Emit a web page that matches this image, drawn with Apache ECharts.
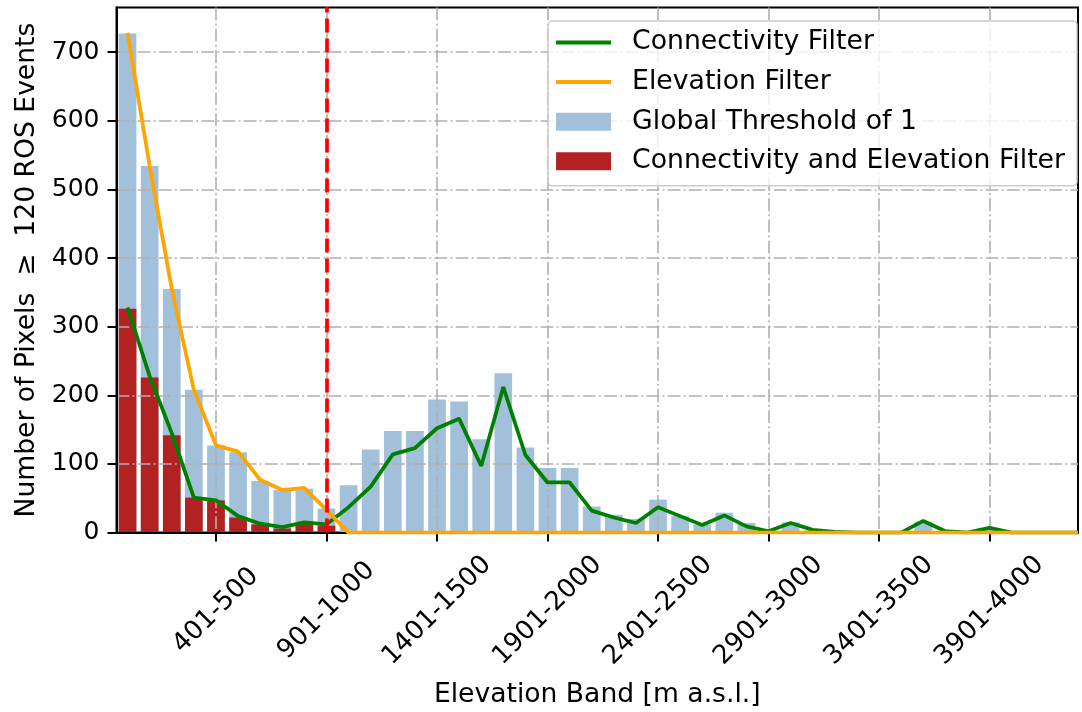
<!DOCTYPE html>
<html>
<head>
<meta charset="utf-8">
<script src="https://cdn.jsdelivr.net/npm/echarts@6/dist/echarts.min.js"></script>
<style>
html, body { margin: 0; padding: 0; background: #fff; }
#chart { width: 1082px; height: 712px; }
</style>
</head>
<body>
<div id="chart"></div>
<script>
// elevation bands (x axis)
const categories = ['1-100', '101-200', '201-300', '301-400', '401-500', '501-600', '601-700', '701-800', '801-900', '901-1000',
  '1001-1100', '1101-1200', '1201-1300', '1301-1400', '1401-1500', '1501-1600', '1601-1700', '1701-1800', '1801-1900', '1901-2000',
  '2001-2100', '2101-2200', '2201-2300', '2301-2400', '2401-2500', '2501-2600', '2601-2700', '2701-2800', '2801-2900', '2901-3000',
  '3001-3100', '3101-3200', '3201-3300', '3301-3400', '3401-3500', '3501-3600', '3601-3700', '3701-3800', '3801-3900', '3901-4000',
  '4001-4100', '4101-4200', '4201-4300', '4301-4400'];
const tickLabels = ['401-500', '901-1000', '1401-1500', '1901-2000', '2401-2500', '2901-3000', '3401-3500', '3901-4000'];
const yTicks = [0, 100, 200, 300, 400, 500, 600, 700];
const thresholdBand = '901-1000';

// Global Threshold of 1 (bars)
const globalThreshold = [727, 534, 355, 208, 127, 117, 75, 62, 64, 35,
  69, 121, 148, 148, 194, 191, 136, 232, 124, 94,
  94, 38, 26, 20, 48, 24, 12, 29, 14, 3,
  15, 3, 1, 0, 0, 0, 16, 2, 0, 6,
  0, 0, 0, 0];
// Connectivity and Elevation Filter (bars)
const connElev = [326, 226, 142, 51, 47, 22, 12, 6, 14, 10,
  0, 0, 0, 0, 0, 0, 0, 0, 0, 0,
  0, 0, 0, 0, 0, 0, 0, 0, 0, 0,
  0, 0, 0, 0, 0, 0, 0, 0, 0, 0,
  0, 0, 0, 0];
// Connectivity Filter (line)
const connectivity = [328, 228, 145, 51, 47, 24, 13, 8, 15, 12,
  37, 67, 114, 123, 152, 166, 97, 212, 113, 73,
  73, 32, 22, 14, 37, 24, 11, 25, 9, 2,
  14, 4, 1, 0, 0, 0, 17, 2, 0, 7,
  0, 0, 0, 0];
// Elevation Filter (line)
const elevation = [728, 534, 355, 208, 127, 118, 77, 62, 65, 33,
  0, 0, 0, 0, 0, 0, 0, 0, 0, 0,
  0, 0, 0, 0, 0, 0, 0, 0, 0, 0,
  0, 0, 0, 0, 0, 0, 0, 0, 0, 0,
  0, 0, 0, 0];

const FONT = 'DejaVu Sans';
const pairs = arr => arr.map((v, i) => [i, v]);
const lineIcon = 'path://M0,0 L55,0 L55,4 L0,4 Z';

const chart = echarts.init(document.getElementById('chart'), null, { renderer: 'canvas' });

const gridLine = { show: true, lineStyle: { color: '#b0b0b0', width: 1.6, type: [12.8, 3.2, 2, 3.2] } };

chart.setOption({
  animation: false,
  grid: {
    left: 116.5, right: 4, top: 7.5, bottom: 179.4,
    containLabel: false,
    outerBoundsMode: 'none',
    show: true, borderColor: '#000', borderWidth: 2
  },
  legend: {
    data: [
      { name: 'Connectivity Filter', icon: lineIcon },
      { name: 'Elevation Filter', icon: lineIcon },
      { name: 'Global Threshold of 1', icon: 'rect' },
      { name: 'Connectivity and Elevation Filter', icon: 'rect' }
    ],
    orient: 'vertical',
    right: 5, top: 21,
    padding: [8, 12, 11, 8],
    itemWidth: 55, itemHeight: 18, itemGap: 12.6,
    backgroundColor: 'rgba(255,255,255,0.8)',
    borderColor: '#cccccc', borderWidth: 1.5, borderRadius: 4,
    textStyle: { fontFamily: FONT, fontSize: 26.7, color: '#000', padding: [0, 0, 0, 16] }
  },
  xAxis: {
    type: 'value',
    min: -0.5,
    max: categories.length - 1,
    z: 1,
    name: 'Elevation Band [m a.s.l.]',
    nameLocation: 'middle',
    nameGap: 149,
    nameTextStyle: { fontFamily: FONT, fontSize: 26.6, color: '#000' },
    axisLine: { show: true, onZero: false, lineStyle: { color: '#000', width: 2 } },
    axisTick: {
      show: true, length: 9, lineStyle: { color: '#000', width: 2 },
      customValues: tickLabels.map(t => categories.indexOf(t))
    },
    axisLabel: {
      customValues: tickLabels.map(t => categories.indexOf(t)),
      formatter: v => categories[Math.round(v)],
      rotate: 45, align: 'center', verticalAlign: 'middle', margin: 78,
      fontFamily: FONT, fontSize: 26, color: '#000'
    },
    splitLine: gridLine
  },
  yAxis: {
    type: 'value',
    min: 0, max: 765, interval: 100,
    z: 1,
    name: 'Number of Pixels  \u2265  120 ROS Events',
    nameLocation: 'middle',
    nameGap: 67,
    nameTextStyle: { fontFamily: FONT, fontSize: 26.6, color: '#000' },
    axisLine: { show: true, onZero: false, lineStyle: { color: '#000', width: 2 } },
    axisTick: { show: true, length: 9, lineStyle: { color: '#000', width: 2 }, customValues: yTicks },
    axisLabel: { customValues: yTicks, margin: 17, fontFamily: FONT, fontSize: 25, color: '#000' },
    splitLine: gridLine
  },
  series: [
    {
      name: 'Connectivity Filter',
      type: 'line',
      data: pairs(connectivity),
      symbol: 'none',
      z: 2,
      color: '#008000',
      lineStyle: { color: '#008000', width: 3.75 },
      markLine: {
        silent: true,
        symbol: 'none',
        label: { show: false },
        lineStyle: { color: '#ff0000', width: 3.75, type: [14, 6] },
        data: [{ xAxis: categories.indexOf(thresholdBand) }]
      }
    },
    {
      name: 'Elevation Filter',
      type: 'line',
      data: pairs(elevation),
      symbol: 'none',
      z: 2,
      color: '#ffa500',
      lineStyle: { color: '#ffa500', width: 3.75 }
    },
    {
      name: 'Global Threshold of 1',
      type: 'bar',
      data: pairs(globalThreshold),
      barWidth: 17.7,
      z: 0,
      itemStyle: { color: '#a2c0d9' }
    },
    {
      name: 'Connectivity and Elevation Filter',
      type: 'bar',
      data: pairs(connElev),
      barWidth: 17.7,
      barGap: '-100%',
      z: 0,
      itemStyle: { color: '#b22222' }
    }
  ]
});
</script>
</body>
</html>
